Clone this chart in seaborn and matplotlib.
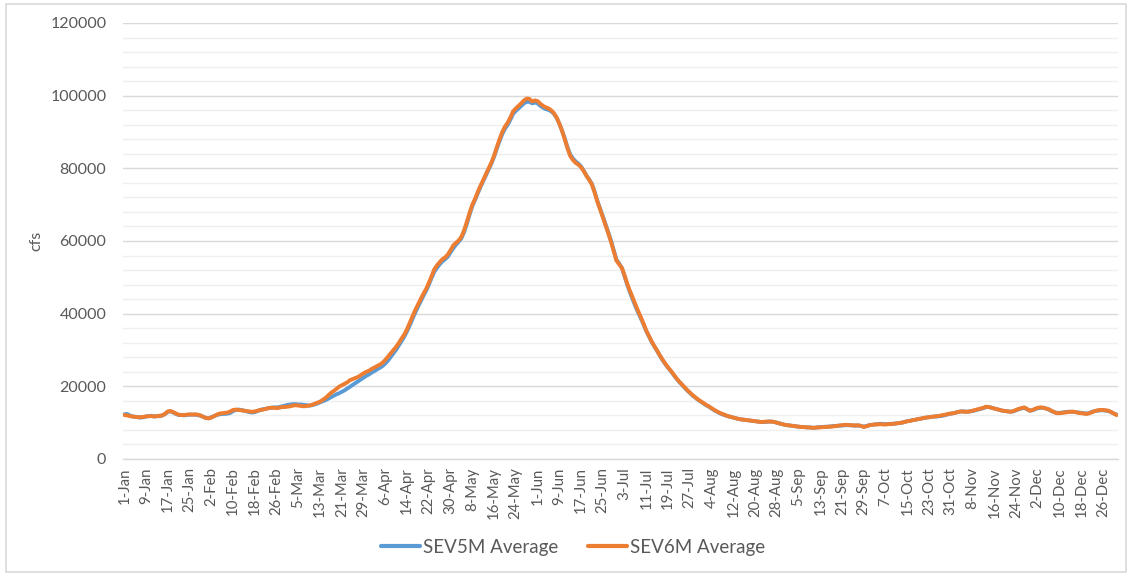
import matplotlib
matplotlib.use("Agg")
import matplotlib.pyplot as plt
from matplotlib.ticker import MultipleLocator
from matplotlib.patches import Rectangle
import numpy as np
import pandas as pd
import seaborn as sns

# ---------------- data (daily values, leap year) ----------------
dates = pd.date_range("2020-01-01", "2020-12-31", freq="D")
day_labels = [f"{d.day}-{d.strftime('%b')}" for d in dates]
series_names = ["SEV5M Average", "SEV6M Average"]

sev5m = [
    12300, 12400, 12000, 11700, 11600, 11500, 11400, 11500, 11700, 11800, 11900, 11700, 11800, 11800, 12000, 12400,
    13000, 13100, 12800, 12400, 12100, 12100, 12000, 12100, 12200, 12200, 12200, 12100, 11900, 11600, 11300,
    11200, 11500, 11800, 12100, 12300, 12400, 12400, 12500, 12700, 13200, 13500, 13600, 13500, 13300, 13100, 12900,
    12800, 12900, 13200, 13500, 13700, 13800, 14000, 14100, 14200, 14200, 14300, 14500,
    14700, 14900, 15000, 15100, 15100, 15000, 15000, 14900, 14800, 14700, 14800, 15000, 15300, 15600, 15900, 16200,
    16600, 17000, 17400, 17800, 18100, 18500, 18900, 19400, 19900, 20400, 20900, 21400, 21900, 22400, 22900,
    23300, 23800, 24200, 24700, 25100, 25600, 26300, 27100, 28100, 29100, 30100, 31300, 32500, 33700, 35200,
    36800, 38600, 40300, 41900, 43400, 44900, 46300, 48000, 49800, 51500, 52600, 53600, 54400, 55000, 55700,
    56900, 58000, 59000, 59800, 60800, 62500, 64800, 67300, 69600, 71300, 73100, 74900, 76500, 78100, 79700,
    81300, 83200, 85400, 87500, 89400, 90900, 92000, 93400, 95000, 95800, 96500, 97200, 97900, 98300, 98300, 97900,
    98100, 97900, 97200, 96700, 96300, 96100, 95700, 95000, 93900, 92300, 90400, 88200, 85800, 83800, 82700,
    81900, 81300, 80500, 79300, 78000, 76900, 75700, 73500, 71000, 68900, 66800, 64600, 62400, 60100, 57500,
    54900, 53800, 52600, 50300, 47900, 45800, 43900, 42000, 40300, 38700, 37000, 35200, 33700, 32200, 30900,
    29700, 28400, 27200, 26100, 25100, 24200, 23200, 22200, 21300, 20500, 19700, 18900, 18200, 17500, 16900, 16300,
    15800, 15300, 14800, 14400, 13900, 13400, 13000, 12600, 12300, 12000, 11800, 11600, 11400, 11200, 11000,
    10900, 10800, 10700, 10600, 10500, 10400, 10300, 10200, 10200, 10200, 10300, 10300, 10200, 10000, 9800, 9600,
    9400, 9300, 9200, 9100, 9000, 8900, 8800, 8800, 8700, 8700, 8600, 8600, 8700, 8800, 8800,
    8900, 8900, 9000, 9100, 9100, 9200, 9200, 9300, 9300, 9300, 9200, 9200, 9200, 9100, 8900,
    9100, 9300, 9400, 9500, 9600, 9700, 9600, 9600, 9600, 9700, 9700, 9800, 9900, 10000, 10200,
    10400, 10500, 10700, 10800, 11000, 11100, 11300, 11400, 11500, 11600, 11700, 11700, 11800, 11900, 12100, 12300,
    12500, 12600, 12800, 13000, 13100, 13100, 13000, 13100, 13200, 13400, 13600, 13800, 14000, 14300, 14300,
    14100, 13900, 13700, 13500, 13300, 13200, 13100, 13000, 13100, 13400, 13700, 13900, 14100, 13700, 13300,
    13400, 13700, 14000, 14100, 14100, 13900, 13600, 13200, 12900, 12700, 12700, 12800, 12900, 13000, 13000,
    13000, 12900, 12800, 12700, 12600, 12500, 12700, 13000, 13200, 13300, 13400, 13400, 13300, 13200, 12900, 12500, 12200,
]

sev6m = [
    12100, 12000, 11800, 11700, 11600, 11500, 11500, 11600, 11700, 11800, 11800, 11700, 11800, 11900, 12000, 12500,
    13100, 13200, 12900, 12500, 12200, 12100, 12100, 12200, 12300, 12200, 12300, 12200, 12000, 11600, 11300,
    11200, 11400, 11800, 12200, 12500, 12600, 12700, 12800, 13100, 13500, 13600, 13500, 13400, 13300, 13200, 13100,
    13000, 13100, 13300, 13500, 13600, 13800, 14000, 14100, 14100, 14000, 14100, 14300,
    14300, 14400, 14500, 14700, 14800, 14700, 14600, 14500, 14600, 14700, 14900, 15200, 15500, 15800, 16300, 16800,
    17500, 18200, 18700, 19300, 19900, 20300, 20700, 21100, 21700, 22000, 22300, 22600, 23100, 23600, 24000,
    24300, 24800, 25200, 25600, 26000, 26500, 27300, 28200, 29100, 30000, 30900, 32000, 33200, 34300, 35800,
    37500, 39300, 41000, 42500, 44000, 45500, 46800, 48500, 50300, 52200, 53300, 54200, 55000, 55500, 56300,
    57500, 58800, 59500, 60200, 61200, 63000, 65300, 67800, 70000, 71600, 73500, 75200, 76800, 78400, 80000,
    81600, 83500, 85800, 88000, 90000, 91500, 92600, 94000, 95700, 96500, 97200, 97900, 98700, 99200, 99100, 98400,
    98700, 98500, 97800, 97200, 96800, 96500, 96000, 95200, 94000, 92300, 90300, 88000, 85500, 83400, 82300,
    81500, 81000, 80300, 79200, 77900, 76800, 75500, 73300, 70800, 68700, 66500, 64300, 62100, 59800, 57200,
    54600, 53600, 52600, 50500, 48200, 46200, 44400, 42500, 40700, 39000, 37200, 35300, 33800, 32300, 31000,
    29800, 28500, 27300, 26200, 25200, 24300, 23300, 22300, 21400, 20600, 19800, 19000, 18300, 17600, 17000, 16400,
    15900, 15400, 14900, 14500, 14000, 13500, 13100, 12700, 12400, 12100, 11800, 11600, 11400, 11200, 11000,
    10900, 10800, 10700, 10600, 10500, 10400, 10300, 10200, 10200, 10300, 10300, 10300, 10200, 10000, 9800, 9600,
    9400, 9300, 9200, 9100, 9000, 8900, 8800, 8800, 8700, 8700, 8600, 8600, 8700, 8700, 8800,
    8800, 8900, 8900, 9000, 9100, 9200, 9300, 9400, 9400, 9300, 9300, 9200, 9300, 9100, 8800,
    9000, 9300, 9400, 9500, 9500, 9600, 9500, 9500, 9600, 9600, 9700, 9800, 9900, 10000, 10200,
    10400, 10500, 10700, 10800, 11000, 11100, 11300, 11400, 11500, 11600, 11700, 11800, 11900, 12100, 12200, 12400,
    12500, 12600, 12800, 13000, 13100, 13000, 13000, 13100, 13300, 13500, 13700, 13900, 14100, 14400, 14300,
    14100, 13900, 13700, 13500, 13300, 13200, 13100, 13000, 13200, 13500, 13800, 14000, 14200, 13800, 13300,
    13500, 13800, 14100, 14200, 14100, 13900, 13700, 13300, 12900, 12600, 12600, 12700, 12800, 12900, 13000,
    13000, 12900, 12700, 12600, 12500, 12400, 12600, 12900, 13200, 13400, 13500, 13500, 13400, 13300, 12900, 12500, 12100,
]

y_ticks = [0, 20000, 40000, 60000, 80000, 100000, 120000]

# ---------------- build long table ----------------
n = len(dates)
df = pd.DataFrame({
    "day": np.concatenate([np.arange(n), np.arange(n)]),
    "cfs": np.array(sev5m[:n] + sev6m[:n], dtype=float),
    "series": [series_names[0]] * n + [series_names[1]] * n,
})

# ---------------- plot ----------------
sns.set_theme(style="white")
plt.rcParams["font.family"] = ["Lato", "DejaVu Sans"]

W, H = 1129, 574
fig = plt.figure(figsize=(W / 100, H / 100), dpi=100)
ax = fig.add_axes([123 / W, 1 - 459 / H, (1118 - 123) / W, (459 - 23) / H])

palette = {series_names[0]: "#5B9BD5", series_names[1]: "#ED7D31"}
sns.lineplot(data=df, x="day", y="cfs", hue="series", palette=palette,
             linewidth=2.8, ax=ax, legend=True, zorder=3)

ax.set_xlim(-0.5, n - 0.5)
ax.set_ylim(0, 120000)
ax.set_yticks(y_ticks)
ax.set_yticklabels([str(v) for v in y_ticks], fontsize=11.5, color="#595959")
ax.yaxis.set_minor_locator(MultipleLocator(4000))
ax.grid(True, which="major", axis="y", color="#d9d9d9", linewidth=1.0, zorder=0)
ax.grid(True, which="minor", axis="y", color="#efefef", linewidth=1.0, zorder=0)
ax.grid(False, axis="x")

tick_pos = list(range(0, n, 8))
ax.set_xticks(tick_pos)
ax.set_xticklabels([day_labels[i] for i in tick_pos], rotation=90,
                   fontsize=10.8, color="#595959", va="top", ha="center")
ax.tick_params(axis="both", which="both", length=0)
ax.tick_params(axis="y", pad=12)
ax.tick_params(axis="x", pad=6)

for s in ["top", "right", "left"]:
    ax.spines[s].set_visible(False)
ax.spines["bottom"].set_color("#d9d9d9")
ax.spines["bottom"].set_linewidth(1.0)

ax.set_xlabel("")
ax.set_ylabel("cfs", fontsize=11.5, color="#595959", labelpad=5)

handles, labels = ax.get_legend_handles_labels()
for h in handles:
    h.set_linewidth(3.0)
ax.legend(handles, labels, loc="center", bbox_to_anchor=(573 / W, 1 - 547 / H),
          bbox_transform=fig.transFigure, ncol=2, frameon=False, fontsize=13.5,
          labelcolor="#595959", handlelength=2.1, handletextpad=0.15, columnspacing=1.6)

fig.patches.append(Rectangle((6 / W, 2 / H), 1120 / W, 568 / H, transform=fig.transFigure,
                             fill=False, edgecolor="#d9d9d9", linewidth=1.2))

fig.savefig("out.png", dpi=100)
